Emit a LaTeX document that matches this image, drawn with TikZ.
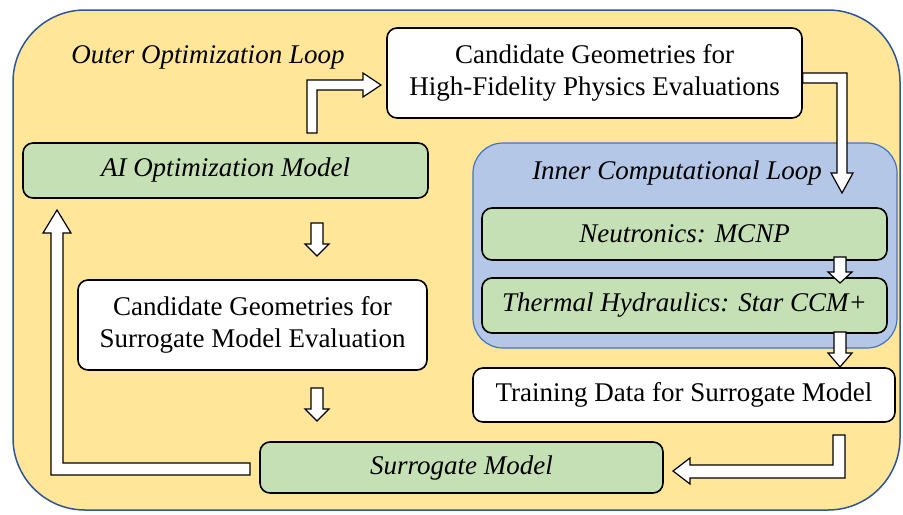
\documentclass[tikz,border=0pt]{standalone}
\usepackage{fontspec}
\setmainfont{Liberation Serif}
\definecolor{outerfill}{HTML}{FFE699}
\definecolor{outerline}{HTML}{2F5597}
\definecolor{innerfill}{HTML}{B4C7E7}
\definecolor{innerline}{HTML}{4472C4}
\definecolor{greenfill}{HTML}{C5E0B4}
\tikzset{
  box/.style={draw=black, line width=0.8pt, rounded corners=5pt, inner sep=0pt, align=center, font=\fontsize{13.5}{16}\selectfont},
  whitebox/.style={box, fill=white},
  greenbox/.style={box, fill=greenfill, font=\fontsize{13.5}{16}\selectfont\itshape},
  looplabel/.style={font=\fontsize{13.5}{16}\selectfont\itshape, inner sep=0pt},
  blockarrow/.style={draw=black, fill=white, line width=0.6pt, line join=miter},
}
\begin{document}
\begin{tikzpicture}[x=0.5pt, y=-0.5pt]
\useasboundingbox (0,0) rectangle (903,514);
% outer loop
\draw[fill=outerfill, draw=outerline, line width=0.75pt, rounded corners=36pt] (13,10) rectangle (900,510);
\node[looplabel] (outerlbl) at (208,57) {Outer Optimization Loop};
% inner loop
\draw[fill=innerfill, draw=innerline, line width=0.6pt, rounded corners=15pt] (473,143) rectangle (897,348);
\node[looplabel] (innerlbl) at (677,173) {Inner Computational Loop};
% boxes
\node[whitebox, minimum width=207.5pt, minimum height=45pt] (hf) at (594.5,73) {Candidate Geometries for\\High-Fidelity Physics Evaluations};
\node[greenbox, minimum width=202.5pt, minimum height=27.5pt] (ai) at (225.5,170.5) {AI Optimization Model};
\node[whitebox, minimum width=174.5pt, minimum height=45pt] (cs) at (252.5,325) {Candidate Geometries for\\Surrogate Model Evaluation};
\node[greenbox, minimum width=202.5pt, minimum height=26pt] (neu) at (684.5,234) {Neutronics: MCNP};
\node[greenbox, minimum width=202.5pt, minimum height=27.5pt] (th) at (684.5,305.5) {Thermal Hydraulics: Star CCM+};
\node[whitebox, minimum width=211pt, minimum height=27pt] (td) at (684,395) {Training Data for Surrogate Model};
\node[greenbox, minimum width=201.5pt, minimum height=25.5pt] (sm) at (461.5,467.5) {Surrogate Model};
% block arrows
% ai -> hf
\draw[blockarrow] (307,133) -- (307,80) -- (363,80) -- (363,73) -- (381,85) -- (363,97) -- (363,90) -- (317,90) -- (317,133) -- cycle;
% hf -> inner loop
\draw[blockarrow] (hf.east |- 0,73) -- (847,73) -- (847,173) -- (853,173) -- (842,193) -- (831,173) -- (837,173) -- (837,83) -- (hf.east |- 0,83) -- cycle;
% ai -> cs
\draw[blockarrow] (311,223) -- (323,223) -- (323,244) -- (329,244) -- (317,256) -- (305,244) -- (311,244) -- cycle;
% cs -> sm
\draw[blockarrow] (311,388) -- (323,388) -- (323,409) -- (329,409) -- (317,421) -- (305,409) -- (311,409) -- cycle;
% neu -> th
\draw[blockarrow] (834,257) -- (846,257) -- (846,272) -- (852,272) -- (840,283) -- (828,272) -- (834,272) -- cycle;
% th -> td
\draw[blockarrow] (834,332) -- (846,332) -- (846,353) -- (852,353) -- (840,367) -- (828,353) -- (834,353) -- cycle;
% td -> sm
\draw[blockarrow] (833,435) -- (845,435) -- (845,478) -- (690,478) -- (690,484) -- (673,471) -- (690,458) -- (690,465) -- (833,465) -- cycle;
% sm -> ai
\draw[blockarrow] (250,463) -- (250,475) -- (51,475) -- (51,233) -- (43,233) -- (57,210) -- (71,233) -- (63,233) -- (63,463) -- cycle;
\end{tikzpicture}
\end{document}
